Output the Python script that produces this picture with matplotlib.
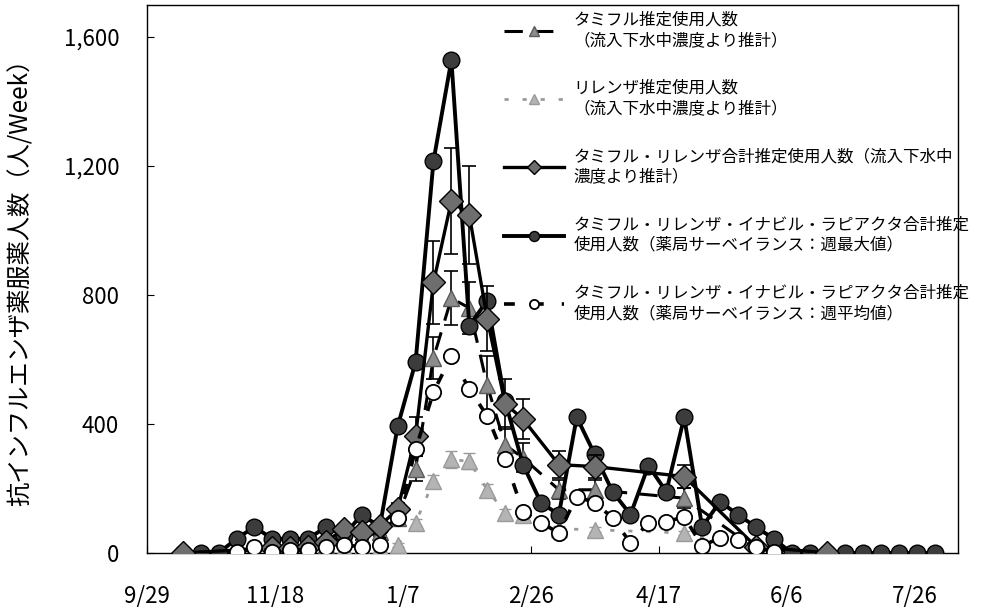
import numpy as np
import pandas as pd
import matplotlib
matplotlib.use("Agg")
import matplotlib.pyplot as plt
import matplotlib.dates as mdates
from matplotlib.ticker import FuncFormatter, FixedLocator

plt.rcParams["font.family"] = ["Noto Sans CJK JP", "DejaVu Sans"]

# weekly points, 2010-10-13 .. 2011-08-03
weeks = pd.date_range("2010-10-13", periods=43, freq="7D")
nan = np.nan

# pharmacy surveillance, weekly max (all weeks)
surv_max = [0, 0, 0, 44, 81, 44, 44, 44, 81, 55, 119, 81,
            393, 592, 1216, 1529, 705, 783, 470, 274,
            156, 119, 421, 306, 190, 119, 271, 190, 421, 81, 159, 119, 81, 44,
            0, 0, 0, 0, 0, 0, 0, 0, 0]

# pharmacy surveillance, weekly mean
surv_mean = [nan, nan, nan, 3, 19, 3, 10, 10, 20, 25, 19, 25,
             110, 321, 499, 611, 508, 425, 290, 128,
             94, 62, 175, 156, 109, 31, 94, 97, 112, 22, 47, 41, 20, 3,
             nan, nan, nan, nan, nan, nan, nan, nan, nan]

# sewage based estimates (sampled weeks only)
sew_idx = [0, 5, 6, 7, 8, 9, 10, 11, 12, 13, 14, 15, 16, 17, 18, 19, 21, 23, 28, 32, 36]
tamiflu = [0, 10, 10, 15, 25, 60, 50, 65, 110, 262, 605, 790, 760, 520, 335, 295, 196, 196, 170, 12, 0]
tamiflu_err = [0, 3, 3, 4, 6, 10, 10, 12, 15, 40, 65, 84, 80, 90, 55, 45, 30, 30, 30, 4, 0]
relenza = [0, 5, 5, 5, 10, 15, 15, 20, 25, 94, 222, 290, 284, 196, 125, 118, 75, 72, 62, 6, 0]
relenza_err = [0, 2, 2, 2, 3, 4, 4, 5, 5, 10, 20, 25, 25, 18, 12, 10, 8, 8, 7, 2, 0]
total = [0, 15, 15, 20, 35, 75, 65, 85, 135, 362, 839, 1092, 1048, 727, 463, 415, 274, 268, 237, 20, 0]
total_err = [0, 4, 4, 5, 8, 12, 12, 14, 20, 60, 128, 165, 153, 100, 77, 62, 41, 36, 37, 5, 0]

labels = [
    "タミフル推定使用人数\n（流入下水中濃度より推計）",
    "リレンザ推定使用人数\n（流入下水中濃度より推計）",
    "タミフル・リレンザ合計推定使用人数（流入下水中\n濃度より推計）",
    "タミフル・リレンザ・イナビル・ラピアクタ合計推定\n使用人数（薬局サーベイランス：週最大値）",
    "タミフル・リレンザ・イナビル・ラピアクタ合計推定\n使用人数（薬局サーベイランス：週平均値）",
]

sew_dates = weeks[sew_idx]

fig = plt.figure(figsize=(9.89, 6.07), dpi=100)
ax = fig.add_axes([0.1486, 0.089, 0.82, 0.903])

e1 = ax.errorbar(sew_dates, tamiflu, yerr=tamiflu_err, fmt="^", color="black",
                 mfc="#8c8c8c", mec="#5a5a5a", ms=11, lw=2.2, ls=(0, (6, 4)),
                 ecolor="black", elinewidth=1.2, capsize=5, capthick=1.2, zorder=3)
e2 = ax.errorbar(sew_dates, relenza, yerr=relenza_err, fmt="^", color="#9a9a9a",
                 mfc="#b4b4b4", mec="#9a9a9a", ms=11, lw=2.0, ls=(0, (1.5, 5)),
                 ecolor="#9a9a9a", elinewidth=1.0, capsize=4, capthick=1.0, zorder=3)
l4, = ax.plot(weeks, surv_max, "-o", color="black", lw=2.8, mfc="#3c3c3c",
              mec="black", ms=12, zorder=4)
e3 = ax.errorbar(sew_dates, total, yerr=total_err, fmt="D", color="black",
                 mfc="#6e6e6e", mec="black", ms=12, lw=2.4, ls="-",
                 ecolor="black", elinewidth=1.2, capsize=5, capthick=1.2, zorder=5)
l5, = ax.plot(weeks, surv_mean, "o", color="black", ls=(0, (3, 5)), lw=2.6,
              mfc="white", mec="black", mew=1.3, ms=11, zorder=6)

ax.set_ylim(0, 1700)
ax.set_xlim(pd.Timestamp("2010-09-29"), pd.Timestamp("2011-08-12"))

yt = [0, 400, 800, 1200, 1600]
ax.yaxis.set_major_locator(FixedLocator(yt))
ax.yaxis.set_major_formatter(FuncFormatter(lambda v, p: "{:,.0f}".format(v)))

xt = pd.date_range("2010-09-29", periods=7, freq="50D")
ax.xaxis.set_major_locator(FixedLocator(mdates.date2num(xt)))
ax.xaxis.set_major_formatter(FuncFormatter(
    lambda v, p: "{}/{}".format(mdates.num2date(v).month, mdates.num2date(v).day)))

ax.tick_params(axis="y", direction="in", length=5, pad=20, labelsize=16)
ax.tick_params(axis="x", direction="in", length=5, pad=23, labelsize=16)
for s in ax.spines.values():
    s.set_linewidth(1.0)

ax.set_ylabel("抗インフルエンザ薬服薬人数（人/Week）", fontsize=17.5)
ax.yaxis.set_label_coords(-0.139, 0.505)

leg = ax.legend([e1[0], e2[0], e3[0], l4, l5], labels, loc="upper left",
                bbox_to_anchor=(0.424, 1.012), frameon=False, fontsize=11.9,
                handlelength=3.6, handletextpad=0.6, labelspacing=1.86,
                borderpad=0.3, markerscale=0.6)
for t in leg.get_texts():
    t.set_linespacing(1.27)

fig.savefig("out.png", dpi=100)
